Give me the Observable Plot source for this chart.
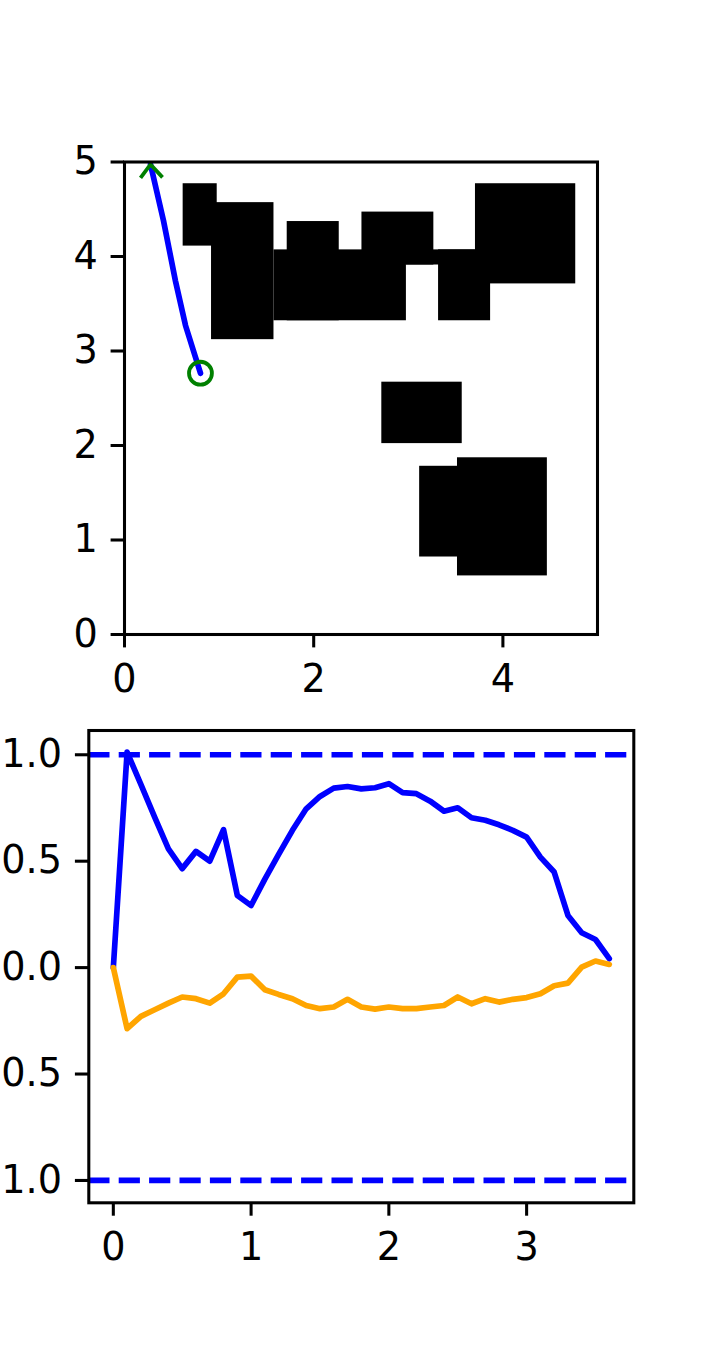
<!DOCTYPE html>
<html><head><meta charset="utf-8">
<script src="https://cdn.jsdelivr.net/npm/d3@7"></script>
<script src="https://cdn.jsdelivr.net/npm/@observablehq/plot@0.6"></script>
<style>
body{margin:0;background:#fff;}
#wrap{position:relative;width:703px;height:1350px;overflow:hidden;background:#fff;}
#top,#bot{position:absolute;left:0;width:703px;}
#top{top:0;} #bot{top:700px;}
svg g[aria-label="line"] path{stroke-width:5.7px !important;}
svg g[aria-label="rule"] line{stroke-width:5.7px !important;}
svg g[aria-label="frame"] rect{stroke-width:3.06px !important;}
svg g[aria-label="dot"] circle, svg g[aria-label="dot"] path{stroke-width:3.8px !important;}
</style></head><body><div id="wrap"><div id="top"></div><div id="bot"></div></div>
<script>
// ---- top panel: obstacles and path ----
const obsX1 = [0.62, 0.92, 1.58, 1.72, 2.51, 2.98, 3.32, 3.71, 2.72, 3.12, 3.52];
const obsX2 = [0.98, 1.58, 2.98, 2.27, 3.27, 3.71, 3.87, 4.77, 3.57, 3.55, 4.47];
const obsY1 = [4.11, 3.12, 3.32, 3.32, 3.91, 3.91, 3.32, 3.71, 2.02, 0.82, 0.62];
const obsY2 = [4.77, 4.57, 4.07, 4.37, 4.47, 4.07, 4.07, 4.77, 2.67, 1.78, 1.87];
const pathX = [0.275, 0.412, 0.539, 0.645, 0.803];
const pathY = [4.975, 4.38, 3.74, 3.27, 2.765];
const topXTicks = [0, 2, 4];
const topYTicks = [0, 1, 2, 3, 4, 5];

// ---- bottom panel: two series ----
const t = [0,0.1,0.2,0.3,0.4,0.5,0.6,0.7,0.8,0.9,1.0,1.1,1.2,1.3,1.4,1.5,1.6,1.7,1.8,1.9,2.0,2.1,2.2,2.3,2.4,2.5,2.6,2.7,2.8,2.9,3.0,3.1,3.2,3.3,3.4,3.5,3.6];
const blueY = [0, 1.012, 0.861, 0.707, 0.558, 0.465, 0.546, 0.50, 0.648, 0.339, 0.292, 0.416, 0.532, 0.645, 0.746, 0.804, 0.843, 0.851, 0.840, 0.845, 0.864, 0.822, 0.817, 0.782, 0.735, 0.751, 0.704, 0.692, 0.671, 0.645, 0.613, 0.519, 0.449, 0.245, 0.164, 0.132, 0.042];
const orangeY = [0, -0.287, -0.229, -0.198, -0.167, -0.138, -0.146, -0.167, -0.123, -0.045, -0.04, -0.104, -0.126, -0.146, -0.178, -0.193, -0.185, -0.149, -0.185, -0.195, -0.185, -0.193, -0.193, -0.185, -0.178, -0.138, -0.17, -0.146, -0.162, -0.149, -0.141, -0.123, -0.085, -0.073, 0.002, 0.031, 0.015];
const limits = [1, -1];
const botXTicks = [0, 1, 2, 3];
const botYTicks = [-1, -0.5, 0, 0.5, 1];

const FS = 38.2;
const LW = 5.7, AW = 3.06, TS = 13.4;
const style = {fontFamily: "'DejaVu Sans', sans-serif", fontSize: FS + "px", color: "black", background: "white"};
const BLUE = "#0000ff", ORANGE = "#ffa500", GREEN = "#008000";

const obstacles = obsX1.map((x1, i) => ({x1, x2: obsX2[i], y1: obsY1[i], y2: obsY2[i]}));
const path = pathX.map((x, i) => ({x, y: pathY[i]}));

const chevron = {
  draw(ctx, size) {
    const k = Math.sqrt(size / Math.PI) / 10;
    ctx.moveTo(-10 * k, 13.5 * k);
    ctx.lineTo(0, 0);
    ctx.lineTo(12 * k, 13 * k);
  }
};

const topPlot = Plot.plot({
  width: 703, height: 700,
  marginLeft: 124, marginRight: 106, marginTop: 161.5, marginBottom: 66,
  style,
  x: {domain: [0, 5]},
  y: {domain: [0, 5]},
  marks: [
    Plot.rect(obstacles, {x1: "x1", x2: "x2", y1: "y1", y2: "y2", fill: "black"}),
    Plot.line(path, {x: "x", y: "y", stroke: BLUE, strokeWidth: LW, clip: true}),
    Plot.dot([path[0]], {x: "x", y: "y", symbol: chevron, r: 10, stroke: GREEN, fill: "none", strokeWidth: 3.8}),
    Plot.dot([path[path.length - 1]], {x: "x", y: "y", r: 11.46, stroke: GREEN, fill: "none", strokeWidth: 3.8}),
    Plot.frame({stroke: "black", strokeWidth: AW}),
    Plot.axisX({ticks: topXTicks, tickSize: TS, tickPadding: 17, strokeWidth: AW, fontSize: FS, label: null, tickFormat: d => String(d)}),
    Plot.axisY({ticks: topYTicks, tickSize: TS, tickPadding: 13.4, strokeWidth: AW, fontSize: FS, label: null, tickFormat: d => String(d)})
  ]
});
document.getElementById("top").appendChild(topPlot);

const blue = t.map((x, i) => ({x, y: blueY[i]}));
const orange = t.map((x, i) => ({x, y: orangeY[i]}));
const fmt = d3.format(".1f");

const botPlot = Plot.plot({
  width: 703, height: 650,
  marginLeft: 88.3, marginRight: 69.7, marginTop: 30, marginBottom: 147.7,
  style,
  x: {domain: [-0.178, 3.778]},
  y: {domain: [-1.105, 1.114]},
  marks: [
    Plot.line(blue, {x: "x", y: "y", stroke: BLUE, strokeWidth: LW, clip: true}),
    Plot.line(orange, {x: "x", y: "y", stroke: ORANGE, strokeWidth: LW, clip: true}),
    Plot.ruleY(limits, {stroke: BLUE, strokeWidth: LW, strokeDasharray: "21.2,9.2", strokeLinecap: "butt"}),
    Plot.frame({stroke: "black", strokeWidth: AW}),
    Plot.axisX({ticks: botXTicks, tickSize: TS, tickPadding: 17, strokeWidth: AW, fontSize: FS, label: null, tickFormat: d => String(d)}),
    Plot.axisY({ticks: botYTicks, tickSize: TS, tickPadding: 13.4, strokeWidth: AW, fontSize: FS, label: null, tickFormat: fmt})
  ]
});
document.getElementById("bot").appendChild(botPlot);
</script>
</body></html>
